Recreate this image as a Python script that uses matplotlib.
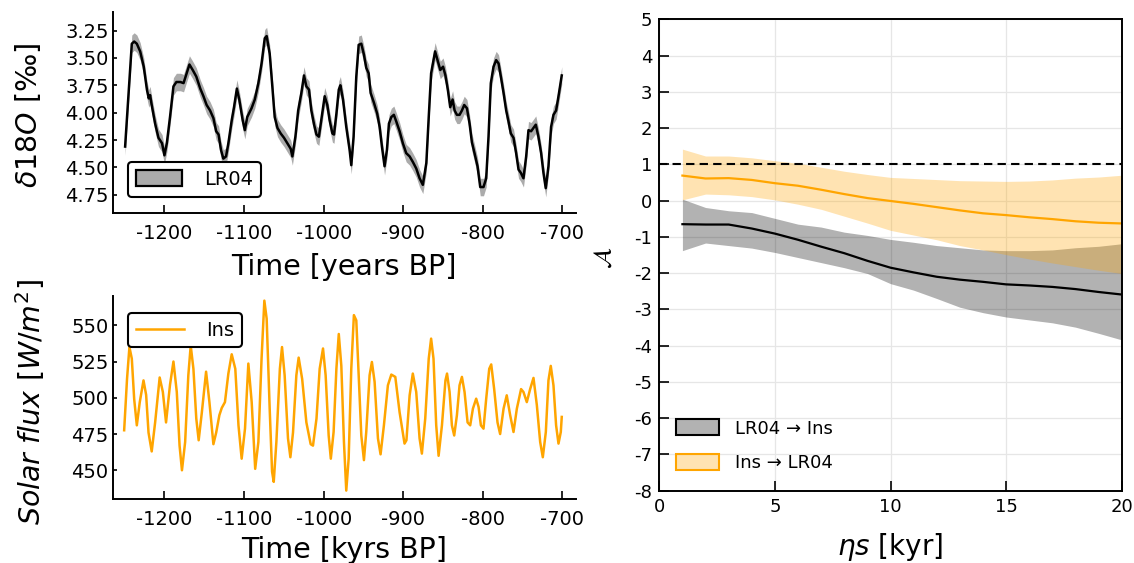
import matplotlib
matplotlib.use("Agg")
import matplotlib.pyplot as plt
from matplotlib.patches import Patch
from matplotlib.lines import Line2D

plt.rcParams['font.family'] = 'DejaVu Sans'
plt.rcParams['axes.unicode_minus'] = False
plt.rcParams['mathtext.fontset'] = 'dejavusans'

ORANGE = '#FFA500'

# ---- LR04 d18O stack (kyr BP, permil) ----
lr04_t = [-1249.4, -1245, -1241, -1238, -1234.7, -1230.5, -1226, -1222, -1219.7, -1218,
          -1216, -1211.7, -1207.5, -1203, -1200, -1197, -1193, -1188.7, -1185, -1180,
          -1176, -1173, -1168.6, -1164.5, -1160, -1155, -1151, -1147, -1142.7, -1138.5,
          -1135, -1132, -1129, -1126, -1122.6, -1119.7, -1115.5, -1112.6, -1109, -1106,
          -1101.7, -1099, -1096, -1090.6, -1086.5, -1082, -1078, -1074, -1071.6,
          -1067.8, -1064.8, -1061.5, -1058, -1054, -1049.8, -1045.6, -1041.4, -1039.3, -1035.5,
          -1032, -1028, -1024.7, -1021.7, -1018.4, -1015.5, -1012, -1009, -1006, -1003,
          -998.7, -995.4, -992.5, -989, -987, -984, -981, -979, -975.7, -971.6,
          -967.4, -965.3, -962.4, -959, -956, -952.7, -949.4, -946.5, -943.5, -941,
          -936.8, -932.7, -929.7, -926.8, -923.5, -920.5, -918, -915, -911.8, -908.8,
          -904.6, -900.5, -896.3, -892, -888, -883.7, -879.5, -875.4,
          -871, -868, -865, -862, -860, -857, -853.5, -850, -847, -844,
          -841, -838, -835.5, -832.6, -829.3, -826.3, -823.4, -820, -816.7, -813.8,
          -810.5, -806.7, -803.3, -799.2, -795.8, -792.9, -790, -786.6, -783.3, -780.3,
          -777.4, -774, -770.7, -767.8, -764.9, -761.5, -758.2, -755.2, -752.3, -749,
          -745.6, -742.7, -739.4, -736.4, -733.5, -730.2, -726.8, -723.9, -721, -717.6,
          -714.3, -711.3, -708, -705, -700.9]
lr04_d18o = [4.31, 3.82, 3.37, 3.35, 3.37, 3.44, 3.58, 3.79, 3.87, 3.84,
             3.93, 4.10, 4.23, 4.28, 4.39, 4.28, 4.04, 3.76, 3.72, 3.72,
             3.73, 3.66, 3.56, 3.61, 3.67, 3.78, 3.85, 3.93, 3.98, 4.05,
             4.17, 4.20, 4.34, 4.42, 4.40, 4.28, 4.07, 3.95, 3.78, 3.88,
             4.07, 4.16, 4.04, 3.96, 3.88, 3.73, 3.55, 3.32, 3.30,
             3.46, 3.73, 4.04, 4.14, 4.19, 4.23, 4.28, 4.33, 4.40, 4.22,
             3.98, 3.82, 3.66, 3.76, 3.79, 3.98, 4.11, 4.20, 4.22, 4.07,
             3.85, 3.93, 4.07, 4.19, 4.20, 4.01, 3.79, 3.75, 3.88, 4.13,
             4.34, 4.48, 4.22, 3.67, 3.38, 3.37, 3.47, 3.59, 3.64, 3.82,
             3.91, 4.01, 4.13, 4.31, 4.49, 4.34, 4.10, 4.04, 4.02, 4.08,
             4.17, 4.28, 4.37, 4.40, 4.45, 4.51, 4.60, 4.66,
             4.46, 4.04, 3.64, 3.52, 3.44, 3.52, 3.61, 3.58, 3.66, 3.79,
             3.95, 3.88, 3.98, 4.02, 4.02, 3.98, 3.93, 3.96, 4.10, 4.27,
             4.37, 4.49, 4.68, 4.68, 4.60, 4.22, 3.73, 3.58, 3.52, 3.55,
             3.67, 3.82, 3.98, 4.08, 4.19, 4.23, 4.37, 4.52, 4.55, 4.60,
             4.40, 4.16, 4.17, 4.14, 4.11, 4.22, 4.37, 4.55, 4.69, 4.49,
             4.13, 4.02, 3.98, 3.85, 3.66]
lr04_sigma = 0.08

# ---- insolation (kyr BP, W/m2) ----
ins_t = [-1250.6, -1247, -1244, -1241, -1238, -1234.7, -1231, -1226.3, -1223, -1220,
         -1216, -1211.7, -1206, -1202, -1198, -1193, -1188.7, -1184.5, -1181, -1178,
         -1174, -1170, -1167, -1163.6, -1160, -1157, -1153, -1147.7, -1143.5, -1138.5,
         -1135, -1131, -1128, -1124, -1119.7, -1115.5, -1111, -1107, -1103, -1098.8,
         -1094.6, -1090.4, -1086, -1082, -1078, -1074.5, -1071.6,
         -1067.8, -1064.8, -1062.7, -1059.4, -1055, -1052.3, -1049, -1044.8, -1041.8, -1038.5,
         -1034.3, -1031.4, -1027, -1021.7, -1016.3, -1013.4, -1009, -1005, -1000.8, -997.5,
         -993.7, -991, -987.5, -984, -981, -977.8, -974.5, -971.6, -968.6, -965.3,
         -962, -959, -956, -952.7, -949.4, -946.5, -942.3, -939.4, -936, -931.8,
         -928.5, -924.3, -919.3, -915, -910, -904.6, -898.4, -896, -892, -888,
         -883.7, -879.5, -876.6,
         -872.4, -868, -865, -862, -858.6, -855.6, -851.4, -847, -845, -841.8,
         -838.9, -836, -832.6, -829.3, -826.3, -823, -819.2, -815.9, -812.5, -808.4,
         -805.4, -802.5, -799.2, -795.8, -792, -789.5, -785.8, -781.6, -778.3, -774,
         -770, -765.7, -761.5, -757.3, -752, -749, -744.8, -740.6, -736.4, -732.2,
         -728, -724.7, -720.9, -717.6, -714.7, -711.3, -708, -705, -702.1, -700.9]
ins_flux = [477.6, 513, 535, 527, 499, 481, 497, 512, 502, 476,
            463, 483, 514, 504, 483, 509, 525, 504, 467, 450,
            469.5, 515.5, 536, 520, 485.6, 470.7, 490, 518, 497, 468,
            476, 488, 493, 497, 516.7, 530, 520, 481, 458, 478.7,
            523.6, 497, 451, 469.5, 527, 567, 554.6,
            492.5, 449, 442, 469.5, 520, 535, 515.5, 472, 459, 476,
            515.5, 527.7, 513, 483, 468, 467, 485.6, 520, 534, 515.5,
            474, 458, 476.4, 520, 544, 522, 469.5, 436, 458, 520,
            557, 553.4, 515.5, 474, 457, 476.4, 515.5, 524.7, 511, 472,
            461, 481, 508.6, 516, 514.4, 490, 468.4, 470.7, 501.7, 516.7,
            504, 472, 461.5,
            485.6, 527, 540.8, 527, 481, 460, 481, 512, 516.7, 504,
            481, 474, 488, 508.6, 514.4, 504, 483, 481, 492.5, 499.4,
            493.7, 481, 478.7, 499.4, 520, 523, 506, 483, 475, 492.5,
            501.7, 488, 476.4, 492.5, 506, 504, 497, 506, 513.7, 495,
            469.5, 459, 476.4, 512, 522, 508.6, 481, 468.4, 476.4, 486.8]

# ---- causal strength vs eta*s (kyr) ----
eta_s = [1, 2, 3, 4, 5, 6, 7, 8, 9, 10, 11, 12, 13, 14, 15, 16, 17, 18, 19, 20]
lr04_to_ins = [-0.65, -0.66, -0.66, -0.77, -0.91, -1.08, -1.27, -1.45, -1.66, -1.85,
               -1.98, -2.10, -2.18, -2.24, -2.31, -2.34, -2.38, -2.44, -2.52, -2.59]
lr04_to_ins_hi = [0.04, -0.19, -0.28, -0.33, -0.49, -0.65, -0.73, -0.87, -0.96, -1.07,
                  -1.15, -1.24, -1.30, -1.36, -1.38, -1.38, -1.36, -1.30, -1.26, -1.19]
lr04_to_ins_lo = [-1.38, -1.17, -1.24, -1.31, -1.43, -1.57, -1.71, -1.85, -2.01, -2.29,
                  -2.47, -2.70, -2.94, -3.09, -3.21, -3.29, -3.37, -3.49, -3.66, -3.84]
ins_to_lr04 = [0.69, 0.61, 0.62, 0.57, 0.48, 0.41, 0.30, 0.18, 0.07, -0.01,
               -0.09, -0.18, -0.27, -0.35, -0.40, -0.46, -0.51, -0.57, -0.61, -0.63]
ins_to_lr04_hi = [1.42, 1.23, 1.23, 1.18, 1.10, 1.03, 0.92, 0.81, 0.72, 0.64,
                  0.61, 0.58, 0.55, 0.54, 0.53, 0.54, 0.57, 0.62, 0.65, 0.70]
ins_to_lr04_lo = [0.02, 0.18, 0.16, 0.11, 0.02, -0.10, -0.24, -0.43, -0.62, -0.82,
                  -0.95, -1.08, -1.24, -1.36, -1.49, -1.61, -1.72, -1.82, -1.92, -2.01]

W, H = 1134, 563
fig = plt.figure(figsize=(W / 100, H / 100), dpi=100)


def rect(x0, y0, x1, y1):
    return [x0 / W, 1 - y1 / H, (x1 - x0) / W, (y1 - y0) / H]


def style_left(ax):
    for s in ['top', 'right']:
        ax.spines[s].set_visible(False)
    for s in ['left', 'bottom']:
        ax.spines[s].set_linewidth(1.4)
    ax.tick_params(axis='x', direction='in', length=6, width=1.2, labelsize=14, pad=8)
    ax.tick_params(axis='y', direction='in', length=3, width=1.2, labelsize=14, pad=3)
    ax.set_xticks([-1200, -1100, -1000, -900, -800, -700])
    ax.set_xlim(-1265, -683)


# -------- LR04 --------
ax1 = fig.add_axes(rect(112.7, 12, 576, 213.3))
lo = [v - lr04_sigma for v in lr04_d18o]
hi = [v + lr04_sigma for v in lr04_d18o]
ax1.fill_between(lr04_t, lo, hi, color='black', alpha=0.33, lw=0)
ax1.plot(lr04_t, lr04_d18o, color='black', lw=1.8)
ax1.set_ylim(4.92, 3.08)
ax1.set_yticks([3.25, 3.5, 3.75, 4.0, 4.25, 4.5, 4.75])
ax1.set_yticklabels(['3.25', '3.50', '3.75', '4.00', '4.25', '4.50', '4.75'])
style_left(ax1)
ax1.set_xlabel('Time [years BP]', fontsize=20.5)
ax1.xaxis.set_label_coords(0.5, -0.195)
ax1.xaxis.label.set_va('top')
fig.text(28 / W, 1 - 115 / H, r'$\delta18O$ [‰]', fontsize=20.5, rotation=90,
         ha='center', va='center')
leg1 = ax1.legend(handles=[Patch(facecolor='#ababab', edgecolor='black', lw=1.6, label='LR04')],
                  loc='lower left', bbox_to_anchor=(0.012, 0.035), fontsize=14,
                  handlelength=2.4, handleheight=0.85, borderpad=0.4, handletextpad=1.1,
                  framealpha=1, fancybox=True)
leg1.get_frame().set_edgecolor('black')
leg1.get_frame().set_linewidth(1.5)

# -------- insolation --------
ax2 = fig.add_axes(rect(112.7, 296, 576, 498.7))
ax2.plot(ins_t, ins_flux, color=ORANGE, lw=1.8)
ax2.set_ylim(430.4, 570.2)
ax2.set_yticks([450, 475, 500, 525, 550])
style_left(ax2)
ax2.set_xlabel('Time [kyrs BP]', fontsize=20.5)
ax2.xaxis.set_label_coords(0.5, -0.185)
ax2.xaxis.label.set_va('top')
fig.text(30 / W, 1 - 402 / H, r'$Solar\ flux\ [W/m^2]$', fontsize=20.5, rotation=90,
         ha='center', va='center')
leg2 = ax2.legend(handles=[Line2D([], [], color=ORANGE, lw=1.8, label='Ins')],
                  loc='upper left', bbox_to_anchor=(0.012, 0.965), fontsize=14,
                  handlelength=2.5, borderpad=0.4, handletextpad=1.1,
                  framealpha=1, fancybox=True)
leg2.get_frame().set_edgecolor('black')
leg2.get_frame().set_linewidth(1.5)

# -------- causal strength --------
ax3 = fig.add_axes(rect(659.3, 19.3, 1121.7, 490.7))
ax3.fill_between(eta_s, lr04_to_ins_lo, lr04_to_ins_hi, color='black', alpha=0.3, lw=0)
ax3.plot(eta_s, lr04_to_ins, color='black', lw=1.6)
ax3.fill_between(eta_s, ins_to_lr04_lo, ins_to_lr04_hi, color=ORANGE, alpha=0.3, lw=0)
ax3.plot(eta_s, ins_to_lr04, color=ORANGE, lw=1.6)
ax3.axhline(1, color='black', ls=(0, (4, 2.5)), lw=1.5)
ax3.set_xlim(0, 20)
ax3.set_ylim(-8, 5)
ax3.set_xticks([0, 5, 10, 15, 20])
ax3.set_yticks(range(-8, 6))
ax3.grid(True, color='#e6e6e6', lw=0.9)
ax3.set_axisbelow(True)
for s in ax3.spines.values():
    s.set_linewidth(1.4)
ax3.tick_params(direction='in', length=7, width=1.2, labelsize=13, pad=5)
ax3.set_xlabel(r'$\eta s$ [kyr]', fontsize=20)
ax3.xaxis.set_label_coords(0.5, -0.085)
ax3.xaxis.label.set_va('top')
fig.text(604 / W, 1 - 258 / H, r'$\mathcal{A}$', fontsize=18, rotation=90,
         ha='center', va='center')
ax3.legend(handles=[Patch(facecolor=(0, 0, 0, 0.3), edgecolor='black', lw=1.5,
                          label='LR04 → Ins'),
                    Patch(facecolor=(1, 0.647, 0, 0.3), edgecolor=ORANGE, lw=1.5,
                          label='Ins → LR04')],
           loc='lower left', bbox_to_anchor=(0.0, 0.005), fontsize=13, frameon=False,
           handlelength=2.4, handleheight=1.0, handletextpad=0.9, labelspacing=0.9)

fig.savefig('out.png', dpi=100)
